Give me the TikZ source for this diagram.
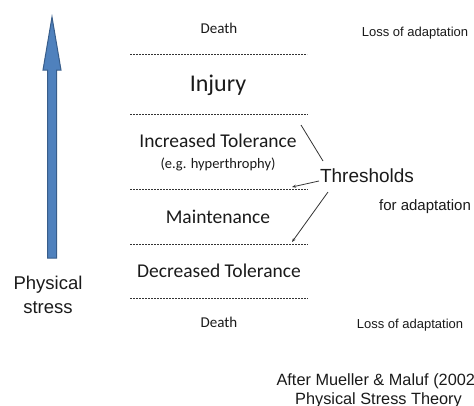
\documentclass[tikz,border=0pt]{standalone}
\usepackage{fontspec}
\setmainfont{Liberation Sans}
\newfontfamily\calfont{Carlito}
\usetikzlibrary{arrows.meta}
\definecolor{arrowfill}{HTML}{4F81BD}
\definecolor{arrowdraw}{HTML}{385D8A}
\definecolor{txt}{HTML}{1A1A1A}
\tikzset{
  sep/.style={draw=black!80, line width=0.8pt, dash pattern=on 2pt off 1pt},
  zone/.style={text=txt, inner sep=0pt, anchor=base},
  side/.style={text=txt, inner sep=0pt, anchor=base},
  pointer/.style={draw=black!80, line width=0.8pt},
  tip/.style={-{Stealth[length=4pt,width=3pt]}}
}
\begin{document}
\begin{tikzpicture}[x=1pt,y=-1pt]
\useasboundingbox (0,0) rectangle (474,405);
\clip (0,0) rectangle (474,405);
% stress arrow
\draw[fill=arrowfill, draw=arrowdraw, line width=1pt, line join=miter]
  (47.5,258) -- (47.5,70) -- (43,70) -- (52,17) -- (61,70) -- (56.5,70) -- (56.5,258) -- cycle;
\node[side, font=\fontsize{18.5}{20}\selectfont] (ps1) at (48,289) {Physical};
\node[side, font=\fontsize{18.5}{20}\selectfont] (ps2) at (48,313) {stress};
% separators
\coordinate (a1) at (130,54);  \coordinate (b1) at (307,54);
\coordinate (a2) at (130,114); \coordinate (b2) at (308,114);
\coordinate (a3) at (130,189); \coordinate (b3) at (308,189);
\coordinate (a4) at (130,244); \coordinate (b4) at (308,244);
\coordinate (a5) at (130,298); \coordinate (b5) at (308,298);
\foreach \i in {1,...,5} \draw[sep] (a\i) -- (b\i);
% zone labels
\node[zone, font=\calfont\fontsize{15}{16}\selectfont] (death1) at (219,33) {Death};
\node[zone, font=\calfont\fontsize{24}{26}\selectfont] (injury) at (218,91) {Injury};
\node[zone, font=\calfont\fontsize{19.5}{21}\selectfont] (inc) at (218,147) {Increased Tolerance};
\node[zone, font=\calfont\fontsize{14.5}{16}\selectfont] (eg) at (218,168) {(e.g. hyperthrophy)};
\node[zone, font=\calfont\fontsize{19.5}{21}\selectfont] (maint) at (218,223) {Maintenance};
\node[zone, font=\calfont\fontsize{19.5}{21}\selectfont] (dec) at (219,277) {Decreased Tolerance};
\node[zone, font=\calfont\fontsize{15}{16}\selectfont] (death2) at (219,327) {Death};
% right labels
\node[side, font=\fontsize{13}{14}\selectfont] (loss1) at (415,36) {Loss of adaptation};
\node[side, font=\fontsize{19}{20}\selectfont] (thr) at (367,182) {Thresholds};
\node[side, font=\fontsize{15}{16}\selectfont] (fad) at (425,210) {for adaptation};
\node[side, font=\fontsize{13}{14}\selectfont] (loss2) at (410,328) {Loss of adaptation};
\node[side, font=\fontsize{16.3}{18}\selectfont] (after) at (378.5,385) {After Mueller \& Maluf (2002)};
\node[side, font=\fontsize{16.3}{18}\selectfont] (pst) at (378.5,404) {Physical Stress Theory};
% pointers
\coordinate (t1) at (323,161); \coordinate (e1) at (301,125);
\coordinate (t2) at (319,181); \coordinate (e2) at (292,187);
\coordinate (t3) at (328,192); \coordinate (e3) at (292,242);
\draw[pointer] (t1) -- (e1);
\draw[pointer, tip] (t2) -- (e2);
\draw[pointer, tip] (t3) -- (e3);
\end{tikzpicture}
\end{document}
